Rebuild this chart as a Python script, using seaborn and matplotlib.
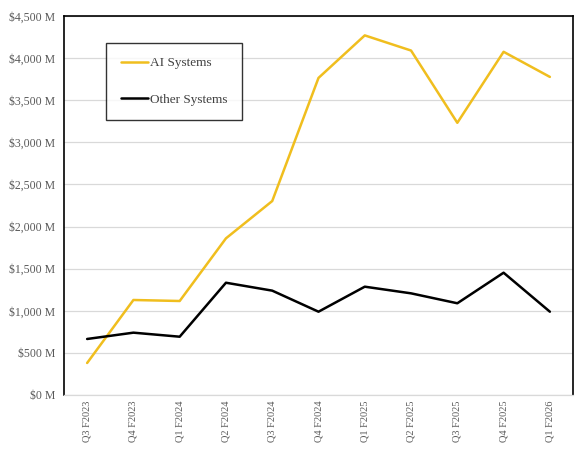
import matplotlib
matplotlib.use("Agg")
import matplotlib.pyplot as plt
import seaborn as sns
import pandas as pd
from matplotlib.ticker import FuncFormatter, MultipleLocator

quarters = ["Q3 F2023", "Q4 F2023", "Q1 F2024", "Q2 F2024", "Q3 F2024", "Q4 F2024",
            "Q1 F2025", "Q2 F2025", "Q3 F2025", "Q4 F2025", "Q1 F2026"]
ai_systems = [380, 1128, 1116, 1860, 2303, 3765, 4270, 4090, 3232, 4075, 3777]
other_systems = [665, 740, 692, 1333, 1239, 989, 1286, 1207, 1089, 1452, 989]
series_names = ["AI Systems", "Other Systems"]
colors = ["#F0BE1E", "#000000"]

df = pd.DataFrame({
    "quarter": quarters * 2,
    "value": ai_systems + other_systems,
    "series": [series_names[0]] * len(quarters) + [series_names[1]] * len(quarters),
})

sns.set_theme(style="white")
plt.rcParams["font.family"] = ["Liberation Serif", "DejaVu Serif"]

fig = plt.figure(figsize=(5.85, 4.55), dpi=100)
ax = fig.add_axes([0.1094, 0.1319, 0.8701, 0.8329])

sns.lineplot(data=df, x="quarter", y="value", hue="series", palette=colors,
             linewidth=1.8, sort=False, ax=ax, legend=True)

ax.set_xlim(-0.5, len(quarters) - 0.5)
ax.set_ylim(0, 4500)
ax.yaxis.set_major_locator(MultipleLocator(500))
ax.yaxis.set_major_formatter(FuncFormatter(lambda v, p: f"${v:,.0f} M"))
ax.grid(axis="y", color="#D9D9D9", linewidth=0.9)
ax.set_axisbelow(True)
ax.set_xlabel("")
ax.set_ylabel("")

for side in ["left", "top", "right"]:
    ax.spines[side].set_color("black")
    ax.spines[side].set_linewidth(1.2)
ax.spines["bottom"].set_color("#D9D9D9")
ax.spines["bottom"].set_linewidth(0.9)

ax.tick_params(axis="y", labelsize=8.5, labelcolor="#595959", length=0, pad=6.5)
ax.tick_params(axis="x", labelsize=7.5, labelcolor="#595959", length=0, pad=4, rotation=90)

handles, labels = ax.get_legend_handles_labels()
leg = ax.legend(handles, labels, loc="upper left", bbox_to_anchor=(0.083, 0.93),
                frameon=True, fancybox=False, edgecolor="black", fontsize=9.5,
                labelspacing=1.85, handlelength=2.05, handletextpad=0.2,
                borderpad=1.1, borderaxespad=0)
leg.get_frame().set_linewidth(1.0)
for t in leg.get_texts():
    t.set_color("#404040")

fig.savefig("out.png", dpi=100, facecolor="white")
